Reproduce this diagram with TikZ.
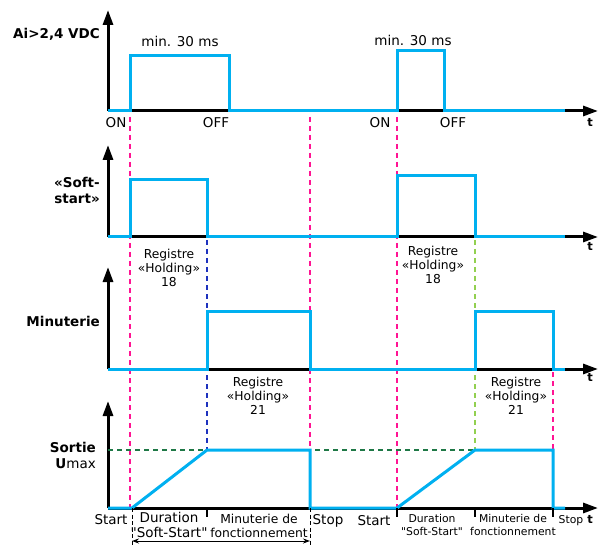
\documentclass[tikz,border=0pt]{standalone}
\usepackage{fontspec}
\setmainfont{DejaVu Sans}
\usepackage{tikz}
\usetikzlibrary{
  positioning,
  arrows.meta,
  calc
}
\definecolor{sigblue}{RGB}{0,176,240}
\definecolor{markpink}{RGB}{255,20,147}
\definecolor{markblue}{RGB}{30,50,190}
\definecolor{markgreen}{RGB}{146,208,80}
\definecolor{levelgreen}{RGB}{30,120,70}
\tikzset{
  axisline/.style={
    -{Triangle[length=15pt,width=10pt]}, line width=3pt, draw=black
  },
  signal/.style={
    line width=3pt, draw=sigblue, line join=miter
  },
  markline/.style={
    line width=1.2pt, dash pattern=on 5pt off 4pt
  },
  tickline/.style={
    line width=1.2pt, draw=black
  },
  spanline/.style={
    line width=0.9pt, draw=black, dash pattern=on 4pt off 2.5pt
  },
  chanlabel/.style={
    font=\fontsize{13.5}{16}\selectfont\bfseries, align=right, anchor=east, inner sep=0pt
  },
  timelabel/.style={
    font=\fontsize{13.5}{15}\selectfont, align=center, inner sep=0pt
  },
  reglabel/.style={
    font=\fontsize{12.3}{14}\selectfont, align=center, inner sep=0pt
  },
  smalllabel/.style={
    font=\fontsize{10.8}{13}\selectfont, align=center, inner sep=0pt
  },
  tlabel/.style={
    font=\fontsize{11.5}{13}\selectfont\bfseries, inner sep=0pt
  }
}

\begin{document}
\begin{tikzpicture}[x=1pt, y=-1pt]
    \useasboundingbox (0,0) rectangle (602,545);

    % Origins of the four panels
    \coordinate (oin) at (108,111);
    \coordinate (osoft) at (108,237);
    \coordinate (otimer) at (108,369);
    \coordinate (oout) at (108,508);

    % Axes
    \foreach \org/\top in {oin/10, osoft/145, otimer/267, oout/401} {
      \draw[axisline] (\org) -- (\org |- 0,\top);
      \draw[axisline] (\org) -- ($(\org)+(490,0)$);
    }

    % Marker lines
    \foreach \xm/\ya/\yb in {130/117/508, 310/117/508, 397/117/508, 553/372/508} {
      \draw[markline, draw=markpink] (\xm,\ya) -- (\xm,\yb);
    }
    \draw[markline, draw=markblue] (207,240) -- (207,450);
    \draw[markline, draw=markgreen] (475,240) -- (475,450);
    \draw[markline, draw=levelgreen] (oout |- 0,450) -- (475,450);

    % Signals
    \draw[signal] (oin) -- (130,111) -- (130,56) -- (229,56) -- (229,111)
      -- (397,111) -- (397,51) -- (444,51) -- (444,111) -- (565,111);
    \draw[signal] (osoft) -- (130,237) -- (130,180) -- (207,180) -- (207,237)
      -- (397,237) -- (397,176) -- (475,176) -- (475,237) -- (565,237);
    \draw[signal] (otimer) -- (207,369) -- (207,311) -- (310,311) -- (310,369)
      -- (475,369) -- (475,311) -- (553,311) -- (553,369) -- (565,369);
    \draw[signal] (oout) -- (132,508) -- (207,450) -- (310,450) -- (310,508)
      -- (397,508) -- (475,450) -- (553,450) -- (553,508) -- (565,508);

    % Bottom ticks and span
    \foreach \xt in {207, 397, 475, 553} {
      \draw[tickline] (\xt,508) -- (\xt,517);
    }
    \coordinate (spanl) at (132,541);
    \coordinate (spanr) at (310,541);
    \draw[spanline] (132,508) -- (132,545);
    \draw[spanline] (310,508) -- (310,545);
    \draw[line width=0.9pt, {Stealth[length=7pt,width=5pt]}-{Stealth[length=7pt,width=5pt]}] (spanl) -- (spanr);

    % Channel labels
    \node[chanlabel] (lin) at (100,34) {Ai>2,4 VDC};
    \node[chanlabel] (lsoft) at (100,190) {«Soft-\\start»};
    \node[chanlabel] (ltimer) at (100,321) {Minuterie};
    \node[chanlabel] (lout) at (96,455) {Sortie\\\textbf{U}\mdseries max};

    % Input labels
    \node[timelabel] (pulse1) at (180,41) {min. 30 ms};
    \node[timelabel] (pulse2) at (413,40) {min. 30 ms};
    \node[timelabel] (on1) at (116,123) {ON};
    \node[timelabel] (off1) at (216,123) {OFF};
    \node[timelabel] (on2) at (380,123) {ON};
    \node[timelabel] (off2) at (453,123) {OFF};

    % Register labels
    \node[reglabel] (reg18a) at (169,268) {Registre\\«Holding»\\18};
    \node[reglabel] (reg18b) at (433,265) {Registre\\«Holding»\\18};
    \node[reglabel] (reg21a) at (258,396) {Registre\\«Holding»\\21};
    \node[reglabel] (reg21b) at (516,396) {Registre\\«Holding»\\21};

    % Time axis labels
    \foreach \yt [count=\i] in {122, 246, 377, 519} {
      \node[tlabel] (t\i) at (590,\yt) {t};
    }

    % Output phase labels
    \node[timelabel] (start1) at (111,520) {Start};
    \node[timelabel] (ramp1) at (169,525) {Duration\\\textquotedbl Soft-Start\textquotedbl};
    \node[reglabel] (run1) at (259,526) {Minuterie de\\fonctionnement};
    \node[timelabel] (stop1) at (328,521) {Stop};
    \node[timelabel] (start2) at (374,521) {Start};
    \node[smalllabel] (ramp2) at (432,525) {Duration\\\textquotedbl Soft-Start\textquotedbl};
    \node[smalllabel] (run2) at (513,525) {Minuterie de\\fonctionnement};
    \node[smalllabel] (stop2) at (571,521) {Stop};

  \end{tikzpicture}
\end{document}
